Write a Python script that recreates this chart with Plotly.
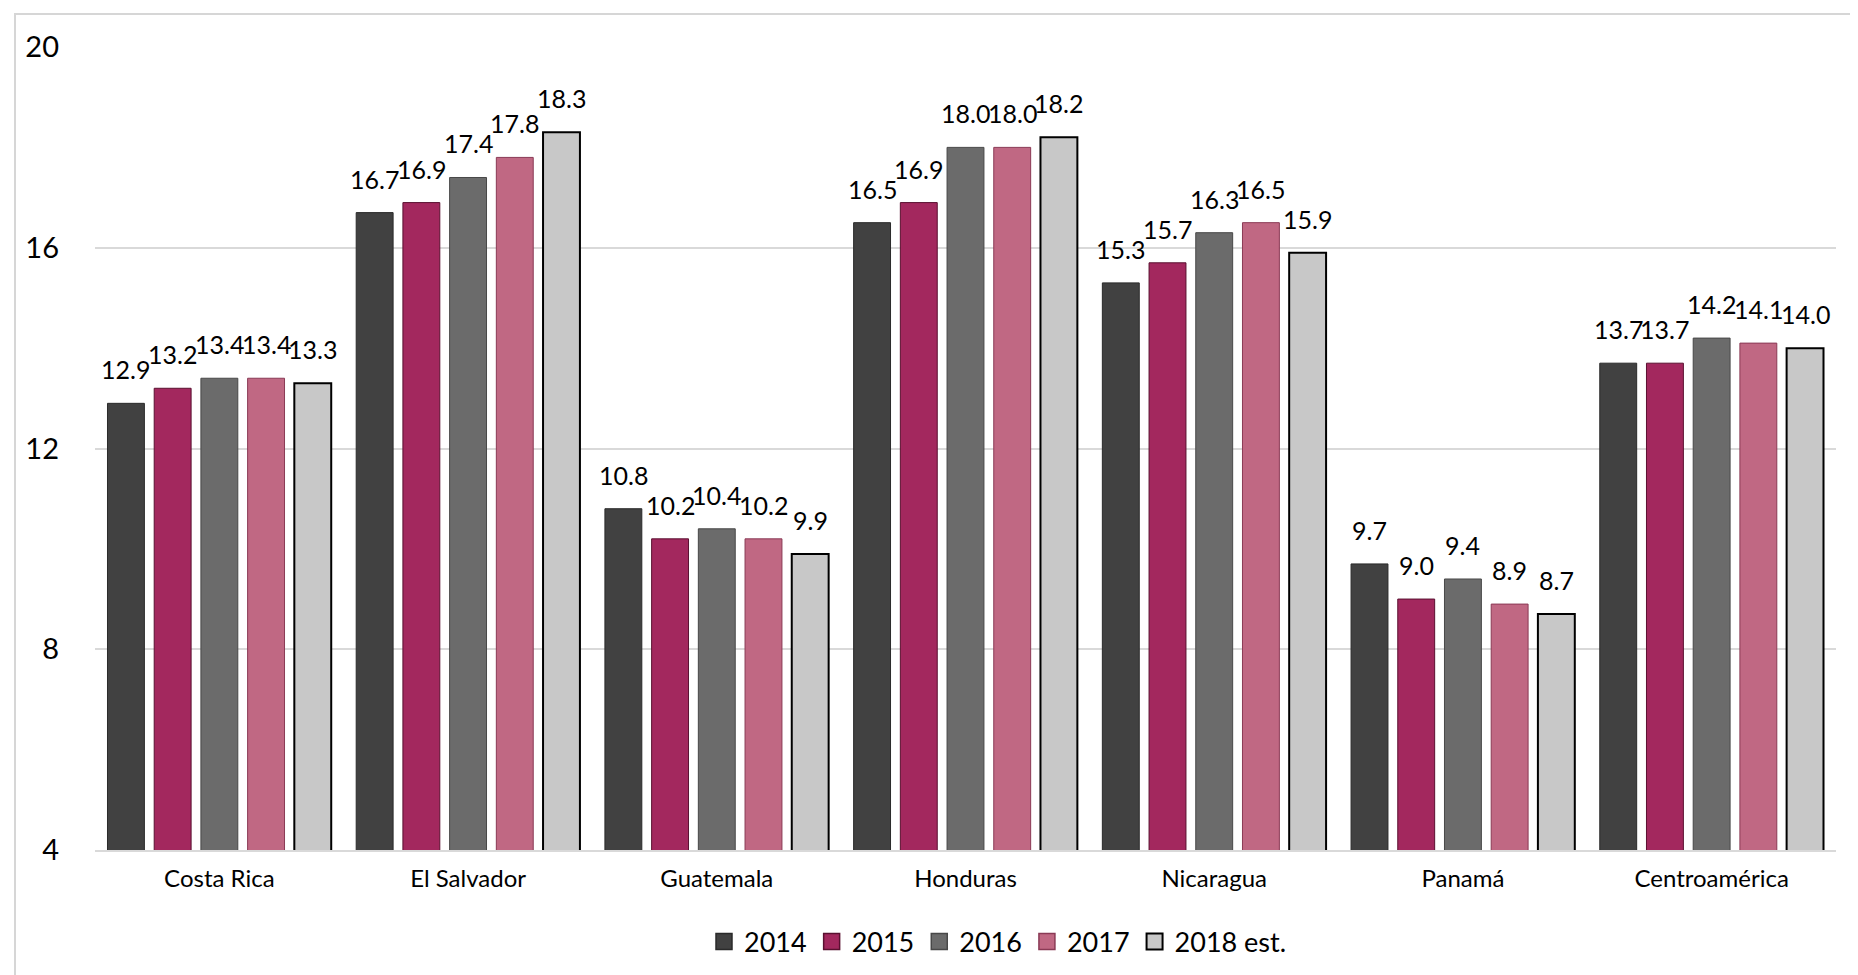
import plotly.graph_objects as go

categories = ["Costa Rica", "El Salvador", "Guatemala", "Honduras", "Nicaragua", "Panamá", "Centroamérica"]
series_names = ["2014", "2015", "2016", "2017", "2018 est."]
v2014 = [12.9, 16.7, 10.8, 16.5, 15.3, 9.7, 13.7]
v2015 = [13.2, 16.9, 10.2, 16.9, 15.7, 9.0, 13.7]
v2016 = [13.4, 17.4, 10.4, 18.0, 16.3, 9.4, 14.2]
v2017 = [13.4, 17.8, 10.2, 18.0, 16.5, 8.9, 14.1]
v2018 = [13.3, 18.3, 9.9, 18.2, 15.9, 8.7, 14.0]
y_ticks = [4, 8, 12, 16, 20]

series_values = [v2014, v2015, v2016, v2017, v2018]
fill_colors = ["#414141", "#A3285E", "#6B6B6B", "#C06883", "#C8C8C8"]
line_colors = ["#2A2A2A", "#5A1030", "#484848", "#8A3A55", "#000000"]
line_widths = [1, 1, 1, 1, 2]

FONT = "Lato"
W, H = 1858, 975
L, R, T, B = 87, 30, 39, 133
BARGAP = 0.061
BARGROUPGAP = 0.21

plot_w = W - L - R
plot_h = H - T - B
n_series = len(series_names)
slot_px = plot_w / len(categories) * (1 - BARGAP) / n_series

fig = go.Figure()
annotations = []
for i, (name, vals, fc, lc, lw) in enumerate(zip(series_names, series_values, fill_colors, line_colors, line_widths)):
    fig.add_trace(go.Bar(
        x=categories, y=vals, name=name, showlegend=False,
        marker=dict(color=fc, line=dict(color=lc, width=lw)),
        hovertemplate="%{x}: %{y:.1f}<extra>" + name + "</extra>",
    ))
    # legend entry with a larger square symbol
    fig.add_trace(go.Scatter(
        x=[None], y=[None], mode="markers", name=name, showlegend=True,
        marker=dict(symbol="square", size=16, color=fc, line=dict(color=lc, width=max(lw, 1.5))),
    ))
    for cat, v in zip(categories, vals):
        annotations.append(dict(
            x=cat, y=v, xref="x", yref="y", text=f"{v:.1f}", showarrow=False,
            xshift=(i - (n_series - 1) / 2) * slot_px, yshift=17,
            yanchor="bottom", xanchor="center",
            font=dict(family=FONT, size=25, color="#000000"),
        ))

legend_x = (990 - L) / plot_w
legend_y = -(934 - (H - B)) / plot_h

fig.update_layout(
    width=W, height=H,
    margin=dict(l=L, r=R, t=T, b=B, autoexpand=False),
    paper_bgcolor="white", plot_bgcolor="white",
    barmode="group", bargap=BARGAP, bargroupgap=BARGROUPGAP,
    font=dict(family=FONT, color="#000000"),
    showlegend=True,
    legend=dict(orientation="h", x=legend_x, y=legend_y, xanchor="center", yanchor="middle",
                font=dict(family=FONT, size=27, color="#000000"),
                itemwidth=30, traceorder="normal", itemsizing="trace"),
    xaxis=dict(showgrid=False, showline=True, linecolor="#D9D9D9", linewidth=2,
               tickfont=dict(family=FONT, size=24, color="#000000"),
               ticks="", ticklabelstandoff=6),
    yaxis=dict(range=[4, 20], tickvals=y_ticks, showgrid=True, gridcolor="#D9D9D9", gridwidth=1.5,
               zeroline=False, showline=False,
               tickfont=dict(family=FONT, size=29, color="#000000"),
               ticks="", ticklabelstandoff=35),
    annotations=annotations,
    shapes=[dict(type="path", xref="paper", yref="paper",
                 path="M {x0},{y0} L {x0},{y1} L {x2},{y1} L {x2},{y0}".format(
                     x0=(7 - L) / plot_w, y0=-(H - (H - B)) / plot_h - 0.01,
                     y1=1 + (T - 6) / plot_h, x2=(1857 - L) / plot_w),
                 line=dict(color="#D6D6D6", width=2), layer="below")],
)

fig.write_html("out.html")
